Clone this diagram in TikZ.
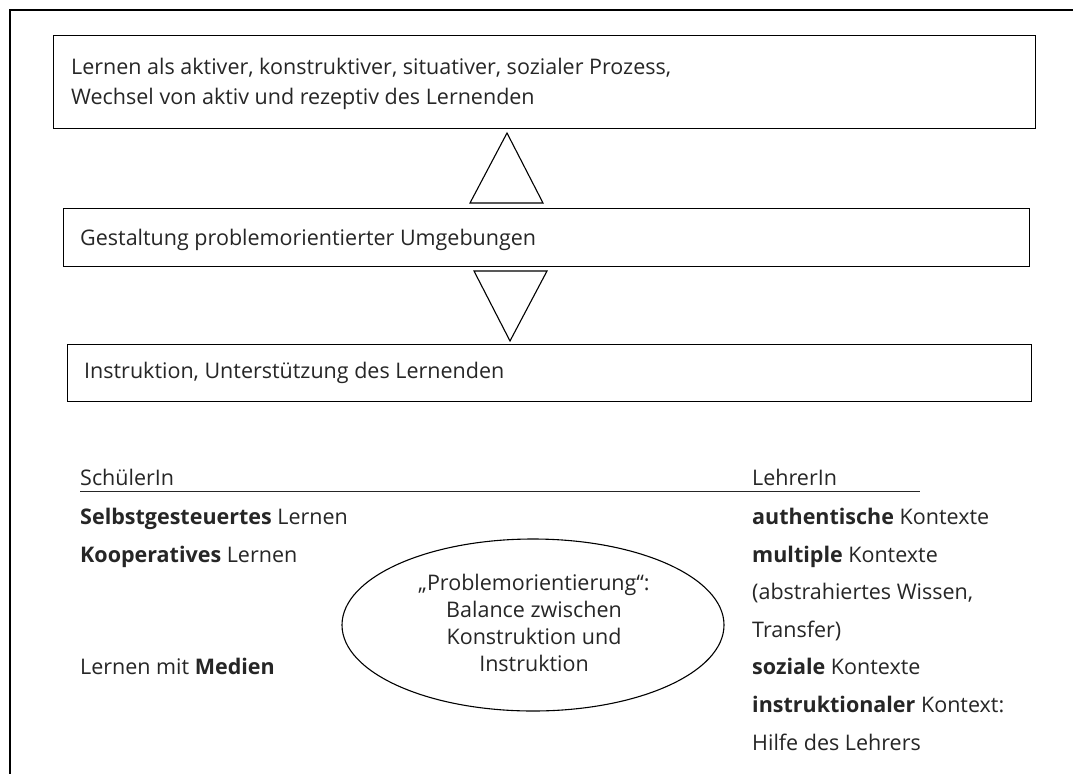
\documentclass[tikz,border=0pt]{standalone}
\usepackage{fontspec}
\setmainfont{Open Sans}
\usetikzlibrary{shapes.geometric}
\definecolor{txt}{HTML}{262626}
\tikzset{
  frame/.style={line width=1.4pt, black},
  box/.style={draw=black, line width=1.4pt, rectangle, inner sep=0pt, anchor=north west},
  lbl/.style={anchor=west, inner sep=0pt, text=txt, font=\fontsize{21.5}{26}\selectfont, text height=15pt, text depth=4pt},
  tri/.style={draw=black, line width=1.1pt, line join=miter},
  oval/.style={draw=black, line width=1.1pt, ellipse, inner sep=0pt},
  otext/.style={inner sep=0pt, text=txt, font=\fontsize{21.5}{27}\selectfont, align=center}
}
\begin{document}
\begin{tikzpicture}[x=1pt,y=-1pt]
\useasboundingbox (0,0) rectangle (1073,774);
\fill[white] (0,0) rectangle (1073,774);
% outer frame (top and left only)
\coordinate (ftr) at (1073,10);
\coordinate (ftl) at (10,10);
\coordinate (fbl) at (10,774);
\draw[frame] (ftr) -- (ftl) -- (fbl);
% boxes
\node[box, minimum width=982pt, minimum height=93pt] (b1) at (53,35) {};
\node[box, minimum width=966pt, minimum height=58pt] (b2) at (63,208) {};
\node[box, minimum width=964pt, minimum height=57pt] (b3) at (67,344) {};
\node[lbl] (t1a) at (71,69) {Lernen als aktiver, konstruktiver, situativer, sozialer Prozess,};
\node[lbl] (t1b) at (71,99) {Wechsel von aktiv und rezeptiv des Lernenden};
\node[lbl] (t2) at (80,240) {Gestaltung problemorientierter Umgebungen};
\node[lbl] (t3) at (84,373) {Instruktion, Unterstützung des Lernenden};
% triangles
\coordinate (ua) at (507,133);
\coordinate (ul) at (470,203);
\coordinate (ur) at (543,203);
\draw[tri] (ul) -- (ua) -- (ur) -- cycle;
\coordinate (dl) at (474,271);
\coordinate (dr) at (547,271);
\coordinate (da) at (510,341);
\draw[tri] (dl) -- (dr) -- (da) -- cycle;
% headings with underline
\node[lbl] (hs) at (80,480) {SchülerIn};
\node[lbl] (hl) at (752,480) {LehrerIn};
\coordinate (ul1) at (80,491);
\coordinate (ul2) at (920,491);
\draw[line width=0.8pt, txt] (ul1) -- (ul2);
% left column
\node[lbl] (l1) at (80,519) {\textbf{Selbstgesteuertes} Lernen};
\node[lbl] (l2) at (80,557) {\textbf{Kooperatives} Lernen};
\node[lbl] (l3) at (80,669) {Lernen mit \textbf{Medien}};
% right column
\node[lbl] (r1) at (752,519) {\textbf{authentische} Kontexte};
\node[lbl] (r2) at (752,557) {\textbf{multiple} Kontexte};
\node[lbl] (r3) at (752,594) {(abstrahiertes Wissen,};
\node[lbl] (r4) at (752,632) {Transfer)};
\node[lbl] (r5) at (752,669) {\textbf{soziale} Kontexte};
\node[lbl] (r6) at (752,707) {\textbf{instruktionaler} Kontext:};
\node[lbl] (r7) at (752,745) {Hilfe des Lehrers};
% ellipse
\node[oval, minimum width=382pt, minimum height=172pt] (ov) at (533,625) {};
\node[otext] (ovt) at (534,623) {„Problemorientierung“:\\Balance zwischen\\Konstruktion und\\Instruktion};
\end{tikzpicture}
\end{document}
